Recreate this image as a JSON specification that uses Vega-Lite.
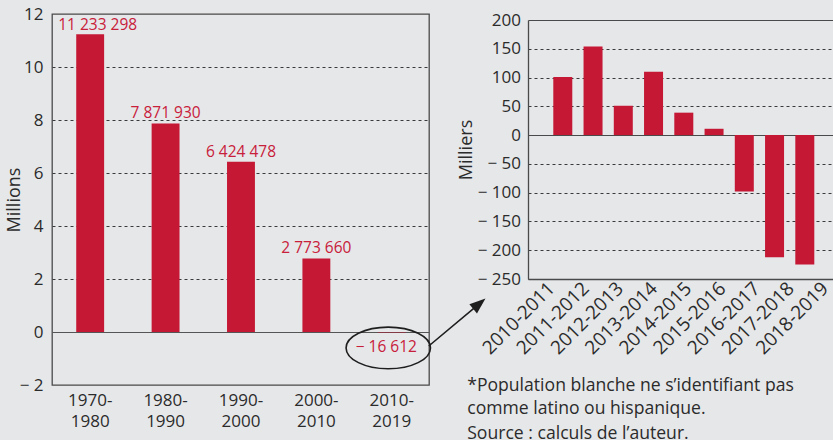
{
  "$schema": "https://vega.github.io/schema/vega-lite/v6.json",
  "background": "#e6e7e9",
  "padding": {"left": 4, "top": 4, "right": 0, "bottom": 0},
  "bounds": "flush",
  "spacing": 99,
  "config": {
    "font": "Open Sans",
    "view": {"stroke": null},
    "axis": {"labelFont": "Open Sans", "labelFontSize": 17, "labelColor": "#2b2b2b", "titleFont": "Open Sans", "titleFontSize": 18, "titleFontWeight": "normal", "titleColor": "#2b2b2b", "labelOverlap": false},
    "locale": {"number": {"decimal": ",", "thousands": " ", "grouping": [3], "currency": ["", " €"], "minus": "\u2212 "}}
  },
  "hconcat": [
    {
      "width": 377,
      "height": 371,
      "view": {"stroke": "#4a4a4a", "strokeWidth": 1.3},
      "data": {"values": [
        {"period": "1970-1980", "value": 11233298},
        {"period": "1980-1990", "value": 7871930},
        {"period": "1990-2000", "value": 6424478},
        {"period": "2000-2010", "value": 2773660},
        {"period": "2010-2019", "value": -16612}
      ]},
      "encoding": {
        "x": {"field": "period", "type": "nominal", "sort": null,
          "scale": {"type": "band", "paddingInner": 0.63, "paddingOuter": 0.315, "align": 0.51},
          "axis": {"title": null, "domain": false, "ticks": false, "labelAngle": 0, "labelPadding": 7, "labelLineHeight": 21, "labelBaseline": "top", "labelExpr": "[slice(datum.label,0,5), slice(datum.label,5)]"}}
      },
      "layer": [
        {
          "mark": {"type": "bar", "color": "#c41834"},
          "encoding": {
            "y": {"field": "value", "type": "quantitative",
              "scale": {"domain": [-2000000, 12000000], "nice": false},
              "axis": {"title": "Millions", "values": [-2000000, 0, 2000000, 4000000, 6000000, 8000000, 10000000, 12000000], "tickCount": 12,
                "domain": false, "ticks": false, "labelPadding": 9, "titlePadding": -4,
                "labelExpr": "datum.value < 0 ? '\u2212 ' + format(-datum.value/1000000, 'd') : format(datum.value/1000000, 'd')",
                "grid": true,
                "gridColor": {"condition": {"test": "datum.value === 0", "value": "#555555"}, "value": "#3a3a3a"},
                "gridDash": {"condition": {"test": "datum.value === 0", "value": []}, "value": [3, 3]},
                "gridOpacity": {"condition": {"test": "datum.value === 12000000 || datum.value === -2000000", "value": 0}, "value": 1}}}
          }
        },
        {
          "transform": [{"filter": "datum.value > 0 && datum.value < 10000000"}],
          "mark": {"type": "text", "baseline": "alphabetic", "dy": -5, "fontSize": 15.5, "color": "#c8203a"},
          "encoding": {"y": {"field": "value", "type": "quantitative"}, "text": {"field": "value", "type": "quantitative", "format": ",d"}}
        },
        {
          "transform": [{"filter": "datum.value >= 10000000"}],
          "mark": {"type": "text", "baseline": "alphabetic", "dy": -4, "dx": 7.5, "fontSize": 15.5, "color": "#c8203a"},
          "encoding": {"y": {"field": "value", "type": "quantitative"}, "text": {"field": "value", "type": "quantitative", "format": ",d"}}
        },
        {
          "transform": [{"filter": "datum.value < 0"}],
          "mark": {"type": "text", "baseline": "alphabetic", "dy": 19.6, "dx": -5.5, "fontSize": 15.5, "color": "#c8203a"},
          "encoding": {"y": {"field": "value", "type": "quantitative"}, "text": {"field": "value", "type": "quantitative", "format": ",d"}}
        },
        {
          "transform": [{"filter": "datum.value < 0"}],
          "mark": {"type": "point", "shape": "M-4.57,0 C-4.57,-1.149 -2.681,-2.08 -0.35,-2.08 C1.981,-2.08 3.87,-1.149 3.87,0 C3.87,1.149 1.981,2.08 -0.35,2.08 C-2.681,2.08 -4.57,1.149 -4.57,0 Z M3.7,-0.19 L8.2,-3.95", "size": 400, "filled": false, "color": "#1e1e1e", "strokeWidth": 1.6, "opacity": 1},
          "encoding": {"y": {"datum": -600000, "type": "quantitative"}}
        },
        {
          "transform": [{"filter": "datum.value < 0"}],
          "mark": {"type": "point", "shape": "M9.37,-4.93 L8.52,-3.44 L7.76,-4.36 Z", "size": 400, "filled": true, "color": "#1e1e1e", "strokeWidth": 0, "opacity": 1},
          "encoding": {"y": {"datum": -600000, "type": "quantitative"}}
        }
      ]
    },
    {
      "vconcat": [
        {
          "width": 305,
          "height": 6,
          "data": {"values": [{"period": ""}]},
          "mark": {"type": "text", "text": ""},
          "encoding": {}
        },
        {
          "width": 305,
          "height": 259,
          "data": {"values": [
            {"period": "2010-2011", "value": 101},
            {"period": "2011-2012", "value": 154},
            {"period": "2012-2013", "value": 51},
            {"period": "2013-2014", "value": 110},
            {"period": "2014-2015", "value": 39},
            {"period": "2015-2016", "value": 11},
            {"period": "2016-2017", "value": -98},
            {"period": "2017-2018", "value": -212},
            {"period": "2018-2019", "value": -225}
          ]},
          "title": {"text": ["*Population blanche ne s’identifiant pas", "comme latino ou hispanique."], "subtitle": "Source : calculs de l’auteur.", "orient": "bottom", "anchor": "start", "font": "Open Sans", "fontSize": 17.6, "fontWeight": "normal", "color": "#2b2b2b", "lineHeight": 22.7, "subtitleFont": "Open Sans", "subtitleFontSize": 17.6, "subtitleColor": "#2b2b2b", "subtitlePadding": 8, "offset": 19, "dx": 10},
          "resolve": {"scale": {"x": "independent"}, "axis": {"x": "independent"}},
          "layer": [
            {
              "mark": {"type": "bar", "color": "#c41834"},
              "encoding": {
                "x": {"field": "period", "type": "nominal", "sort": null,
                  "scale": {"type": "band", "paddingInner": 0.372, "paddingOuter": 0.727, "align": 0.575},
                  "axis": {"title": null, "labels": false, "ticks": false, "domain": true, "domainColor": "#4a4a4a", "domainWidth": 1.3, "orient": "bottom"}},
                "y": {"field": "value", "type": "quantitative",
                  "scale": {"domain": [-250, 200], "nice": false},
                  "axis": {"title": "Milliers", "values": [-250, -200, -150, -100, -50, 0, 50, 100, 150, 200], "tickCount": 12,
                    "domain": true, "domainColor": "#4a4a4a", "domainWidth": 1.3, "ticks": false, "labelPadding": 7.5, "titlePadding": 2,
                    "labelExpr": "datum.value < 0 ? '\u2212 ' + format(-datum.value, 'd') : format(datum.value, 'd')",
                    "grid": true, "gridWidth": 1,
                    "gridColor": {"condition": {"test": "datum.value === 0 || datum.value === 200 || datum.value === -250", "value": "#4a4a4a"}, "value": "#3a3a3a"},
                    "gridDash": {"condition": {"test": "datum.value === 0 || datum.value === 200 || datum.value === -250", "value": []}, "value": [3, 3]}}}
              }
            },
            {
              "mark": {"type": "point", "opacity": 0},
              "encoding": {
                "x": {"field": "period", "type": "nominal", "sort": null,
                  "scale": {"type": "point", "padding": 0.46, "align": 0.642},
                  "axis": {"title": null, "domain": false, "ticks": false, "orient": "bottom", "labelAngle": -45, "labelAlign": "right", "labelBaseline": "middle", "labelPadding": 6, "labelOffset": 3, "labelFontSize": 19}},
                "y": {"field": "value", "type": "quantitative"}
              }
            }
          ]
        }
      ],
      "spacing": 0,
      "bounds": "flush"
    }
  ]
}
